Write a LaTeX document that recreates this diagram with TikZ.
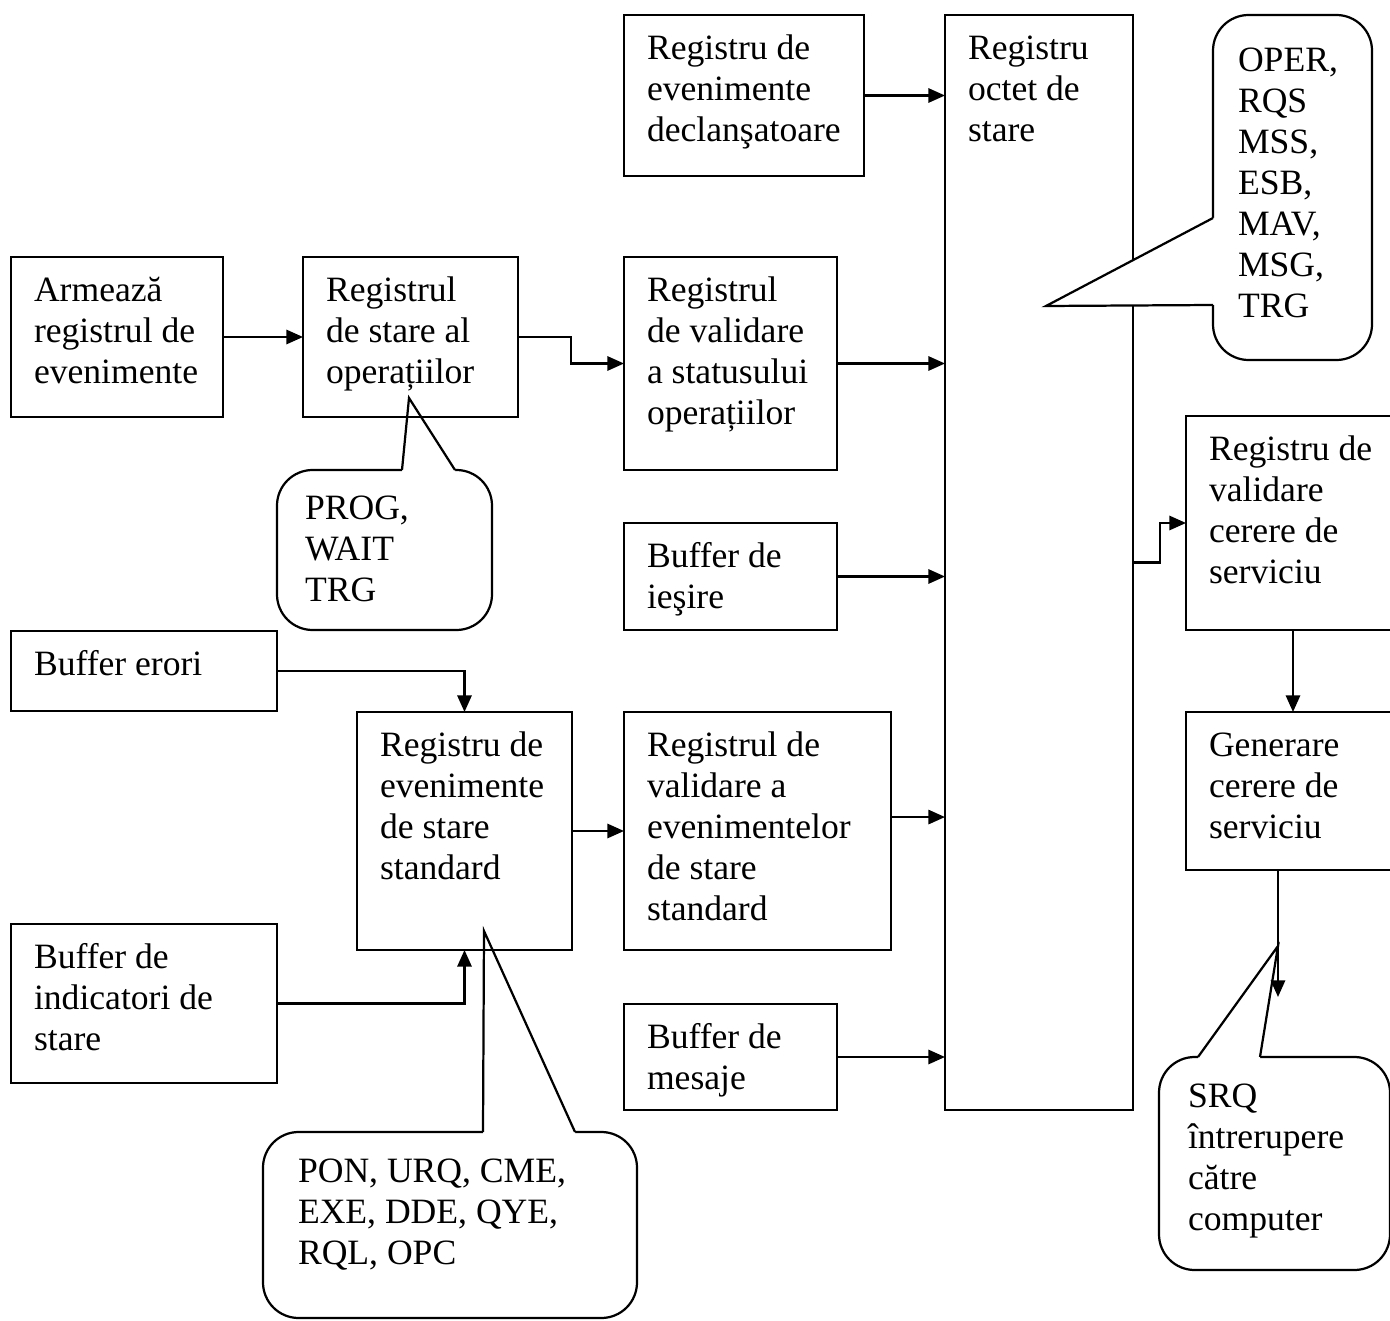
\documentclass[tikz,border=0pt]{standalone}
\usepackage{fontspec}
\setmainfont{Liberation Serif}
\usetikzlibrary{arrows.meta}
\newcommand\pxu{0.337pt}
\tikzset{
  blk/.style={draw, line width=0.75pt, rectangle, inner sep=0pt, outer sep=0pt},
  txt/.style={inner sep=0pt, outer sep=0pt, align=left, anchor=north west,
              font=\fontsize{12}{13.8}\selectfont},
  arr/.style={line width=0.75pt, -{Triangle[length=5.6pt,width=4.8pt]}},
  bubble/.style={draw, line width=0.75pt, fill=white, rounded corners=12pt},
  wedgeline/.style={line width=0.75pt, line join=miter},
}
% register box: name, left, top, width, height, text
\newcommand\regbox[6]{%
  \node[blk, anchor=north west, minimum width=#4*\pxu, minimum height=#5*\pxu] (#1) at (#2,#3) {};
  \node[txt] (#1-t) at ([shift={(23,16)}]#1.north west) {\strut #6};}
\begin{document}
\begin{tikzpicture}[x=0.337pt, y=-0.337pt]
\useasboundingbox (0,0) rectangle (1390,1321);

% callout: PROG, WAIT, TRG
\coordinate (ptip) at (409,398);
\draw[bubble] (277,470) rectangle (492,630);
\fill[white] (402,474) -- (402,470) -- (ptip) -- (455,470) -- (455,474) -- cycle;
\draw[wedgeline] (402,470) -- (ptip) -- (455,470);
\node[txt] (t-prog) at (305,491) {\strut PROG,\\WAIT\\TRG};

% callout: status event bits
\coordinate (stip) at (484,931);
\draw[bubble] (263,1132) rectangle (637,1318);
\fill[white] (483,1136) -- (483,1132) -- (stip) -- (575,1132) -- (575,1136) -- cycle;
\draw[wedgeline] (483,1132) -- (stip) -- (575,1132);
\node[txt] (t-pon) at (298,1154) {\strut PON, URQ, CME,\\EXE, DDE, QYE,\\RQL, OPC};

% callout: SRQ
\coordinate (qtip) at (1278,946);
\draw[bubble] (1159,1057) rectangle (1390,1270);
\fill[white] (1198,1061) -- (1198,1057) -- (qtip) -- (1260,1057) -- (1260,1061) -- cycle;
\draw[wedgeline] (1198,1057) -- (qtip) -- (1260,1057);
\node[txt] (t-srq) at (1188,1079) {\strut SRQ\\întrerupere\\către\\computer};

% register blocks
\regbox{decl}{624}{15}{240}{161}{Registru de\\evenimente\\declanşatoare}
\regbox{big}{945}{15}{188}{1095}{Registru\\octet de\\stare}
\regbox{arm}{11}{257}{212}{160}{Armează\\registrul de\\evenimente}
\regbox{opst}{303}{257}{215}{160}{Registrul\\de stare al\\operațiilor}
\regbox{valst}{624}{257}{213}{213}{Registrul\\de validare\\a statusului\\operațiilor}
\regbox{ies}{624}{523}{213}{107}{Buffer de\\ieşire}
\regbox{valcer}{1186}{416}{214}{214}{Registru de\\validare\\cerere de\\serviciu}
\regbox{errs}{11}{631}{266}{80}{Buffer erori}
\regbox{evst}{357}{712}{215}{238}{Registru de\\evenimente\\de stare\\standard}
\regbox{valev}{624}{712}{267}{238}{Registrul de\\validare a\\evenimentelor\\de stare\\standard}
\regbox{gen}{1186}{712}{214}{158}{Generare\\cerere de\\serviciu}
\regbox{ind}{11}{924}{266}{159}{Buffer de\\indicatori de\\stare}
\regbox{msg}{624}{1004}{213}{106}{Buffer de\\mesaje}

% callout: status byte bits (drawn over the status byte register edge)
\coordinate (otip) at (1046,306);
\draw[bubble] (1213,15) rectangle (1372,360);
\fill[white] (1217,218) -- (1213,218) -- (otip) -- (1213,305) -- (1217,305) -- cycle;
\draw[wedgeline] (1213,218) -- (otip) -- (1213,305);
\node[txt] (t-oper) at (1238,43) {\strut OPER,\\RQS\\MSS,\\ESB,\\MAV,\\MSG,\\TRG};

% connectors
\draw[arr] (decl.east) -- (decl.east -| big.west);
\draw[arr] (arm.east) -- (opst.west);
\draw[arr] (opst.east) -- ++(53,0) |- (valst.west);
\draw[arr] (valst.east) -- (valst.east -| big.west);
\draw[arr] (ies.east) -- (ies.east -| big.west);
\draw[arr] (errs.east) -| (evst.north);
\draw[arr] (ind.east) -| (evst.south);
\draw[arr] (evst.east) -- (valev.west);
\draw[arr] ([yshift=4.7pt]valev.east) -- ([yshift=4.7pt]valev.east -| big.west);
\draw[arr] (msg.east) -- (msg.east -| big.west);
\draw[arr] (big.east) -- ++(27,0) |- (valcer.west);
\draw[arr] (valcer.south) -- (gen.north);
\coordinate (srqin) at (1278,997);
\draw[arr] (gen.south -| srqin) -- (srqin);
\end{tikzpicture}
\end{document}
